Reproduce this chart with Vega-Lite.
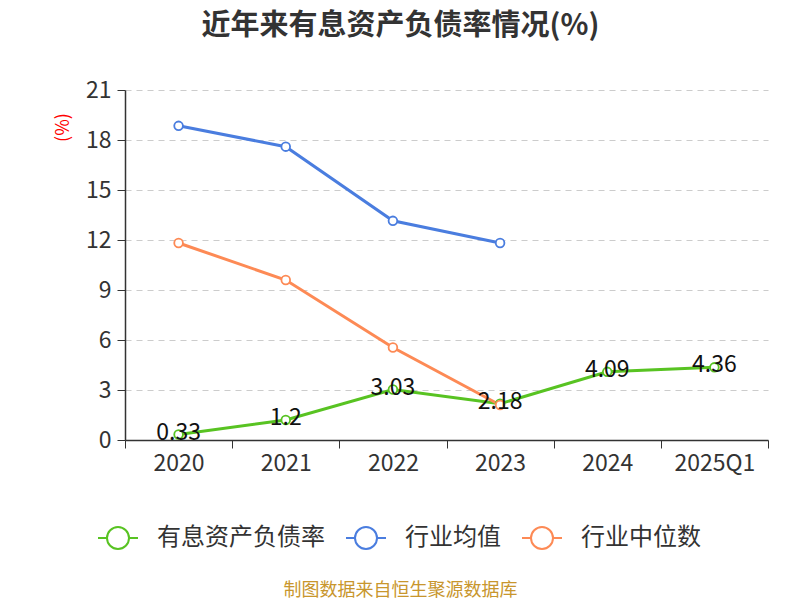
{
  "$schema": "https://vega.github.io/schema/vega-lite/v6.json",
  "width": 643,
  "height": 350,
  "autosize": {"type": "none"},
  "padding": {"left": 125, "top": 90, "right": 32, "bottom": 160},
  "background": "white",
  "title": {
    "text": "近年来有息资产负债率情况(%)",
    "fontSize": 29,
    "fontWeight": "bold",
    "color": "#333333",
    "font": "Noto Sans CJK SC",
    "anchor": "middle",
    "dx": -46,
    "offset": 38
  },
  "config": {
    "font": "Noto Sans CJK SC",
    "view": {"stroke": null}
  },
  "data": {
    "values": [
      {"year": "2020", "series": "有息资产负债率", "value": 0.33},
      {"year": "2021", "series": "有息资产负债率", "value": 1.2},
      {"year": "2022", "series": "有息资产负债率", "value": 3.03},
      {"year": "2023", "series": "有息资产负债率", "value": 2.18},
      {"year": "2024", "series": "有息资产负债率", "value": 4.09},
      {"year": "2025Q1", "series": "有息资产负债率", "value": 4.36},
      {"year": "2020", "series": "行业均值", "value": 18.85},
      {"year": "2021", "series": "行业均值", "value": 17.6},
      {"year": "2022", "series": "行业均值", "value": 13.15},
      {"year": "2023", "series": "行业均值", "value": 11.82},
      {"year": "2020", "series": "行业中位数", "value": 11.82},
      {"year": "2021", "series": "行业中位数", "value": 9.6},
      {"year": "2022", "series": "行业中位数", "value": 5.55},
      {"year": "2023", "series": "行业中位数", "value": 2.1}
    ]
  },
  "encoding": {
    "x": {
      "field": "year",
      "type": "ordinal",
      "bandPosition": 0.5,
      "scale": {"type": "band", "paddingInner": 0, "paddingOuter": 0},
      "axis": {
        "title": "制图数据来自恒生聚源数据库",
        "titleColor": "#c8962d",
        "titleFontSize": 18,
        "titleFontWeight": "normal",
        "titleX": 275,
        "titleY": 150,
        "titleAlign": "center",
        "titleBaseline": "middle",
        "labelAngle": 0,
        "labelFontSize": 23,
        "labelColor": "#333333",
        "labelPadding": 4,
        "domainColor": "#333333",
        "domainWidth": 1.5,
        "tickColor": "#333333",
        "tickSize": 8,
        "tickBand": "extent",
        "grid": false
      }
    },
    "y": {
      "field": "value",
      "type": "quantitative",
      "scale": {"domain": [0, 21]},
      "axis": {
        "values": [0, 3, 6, 9, 12, 15, 18, 21],
        "title": "(%)",
        "titleColor": "#ff0000",
        "titleFontSize": 18,
        "titleFontWeight": "normal",
        "titleX": -62,
        "titleY": 37,
        "titleAlign": "center",
        "titleBaseline": "middle",
        "labelFontSize": 23,
        "labelColor": "#333333",
        "labelPadding": 6,
        "domainColor": "#333333",
        "domainWidth": 1.5,
        "tickColor": "#333333",
        "tickSize": 8,
        "gridColor": "#cccccc",
        "gridDash": [6, 5],
        "gridWidth": 1.2
      }
    }
  },
  "layer": [
    {
      "mark": {
        "type": "line",
        "strokeWidth": 3,
        "point": {"filled": false, "fill": "white", "size": 75, "strokeWidth": 1.8}
      },
      "encoding": {
        "color": {
          "field": "series",
          "type": "nominal",
          "scale": {
            "domain": ["有息资产负债率", "行业均值", "行业中位数"],
            "range": ["#58c322", "#4a7ddf", "#fd8a55"]
          },
          "legend": {
            "title": null,
            "orient": "none",
            "direction": "horizontal",
            "legendX": -28,
            "legendY": 427,
            "labelFontSize": 24,
            "labelColor": "#333333",
            "labelOffset": 18,
            "labelLimit": 400,
            "columnPadding": 17,
            "symbolType": "M-1,0H-0.55M0.55,0H1M-0.55,0A0.55,0.55 0 1,1 0.55,0A0.55,0.55 0 1,1 -0.55,0",
            "symbolSize": 1600,
            "symbolStrokeWidth": 2,
            "symbolFillColor": "white"
          }
        }
      }
    },
    {
      "transform": [{"filter": "datum.series === '有息资产负债率'"}],
      "mark": {"type": "text", "fontSize": 23, "color": "#111111", "baseline": "middle", "dy": -2},
      "encoding": {
        "text": {"field": "value", "type": "nominal"}
      }
    }
  ]
}
